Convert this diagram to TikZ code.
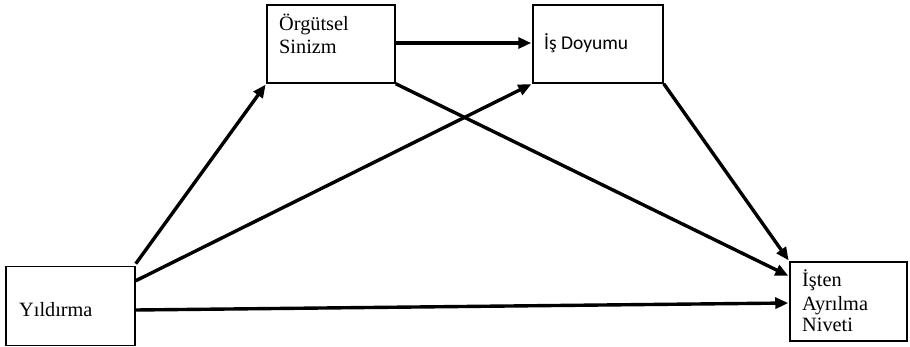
\documentclass[tikz,border=0pt]{standalone}
\usepackage{fontspec}
\setmainfont{Liberation Serif}
\newfontfamily\calib{Carlito}
\usetikzlibrary{arrows.meta}
\begin{document}
\begin{tikzpicture}[x=1pt,y=-1pt,
  box/.style={draw=black,line width=1.5pt,fill=white,inner sep=0pt},
  lbl/.style={inner sep=0pt,anchor=base west,font=\fontsize{20.3}{23}\selectfont},
  conn/.style={line width=3.4pt,-{Triangle[length=13pt,width=11pt]},shorten >=1pt}]
\useasboundingbox (0,0) rectangle (910,347);
% boxes
\node[box,minimum width=129pt,minimum height=79pt] (y) at (70.5,306) {};
\node[box,minimum width=128pt,minimum height=78pt] (o) at (331,44) {};
\node[box,minimum width=130pt,minimum height=78pt] (d) at (598,44) {};
\node[box,minimum width=117pt,minimum height=79pt] (i) at (848.5,301.5) {};
% texts
\node[lbl] (yt) at (19,316.7) {Yıldırma};
\node[lbl] (ot1) at (279,30.5) {Örgütsel};
\node[lbl] (ot2) at (279,53.5) {Sinizm};
\node[lbl,font=\calib\fontsize{19.5}{23}\selectfont] (dt) at (544,50) {İş Doyumu};
\node[lbl] (it1) at (802,286.7) {İşten};
\node[lbl] (it2) at (802,310) {Ayrılma};
\node[lbl] (it3) at (802,331.7) {Niveti};
% connectors
\draw[conn] ([yshift=2pt]y.north east) -- (o.south west);
\draw[conn] ([yshift=-15pt]y.north east) -- (d.south west);
\draw[conn] ([yshift=-4pt]y.east) -- ([yshift=-1.5pt]i.west);
\draw[conn] ([yshift=1pt]o.east) -- ([yshift=1pt]d.west);
\draw[conn] (o.south east) -- ([yshift=-15pt]i.north west);
\draw[conn] (d.south east) -- (i.north west);
\end{tikzpicture}
\end{document}
